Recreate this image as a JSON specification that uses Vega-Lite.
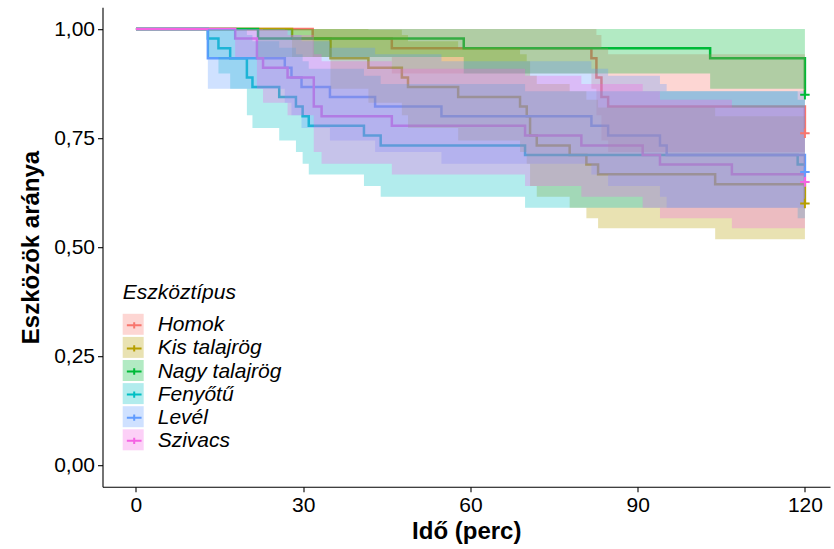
{
  "$schema": "https://vega.github.io/schema/vega-lite/v6.json",
  "width": 727.5,
  "height": 479.6,
  "autosize": {"type": "none"},
  "padding": {"left": 102.5, "top": 7.2, "right": 4, "bottom": 62.2},
  "background": "white",
  "datasets": {
    "km": [
      {"group": "Homok", "time": 0, "surv": 1, "lower": 1, "upper": 1},
      {"group": "Homok", "time": 31.7, "surv": 0.978, "lower": 0.936, "upper": 1},
      {"group": "Homok", "time": 45.9, "surv": 0.956, "lower": 0.898, "upper": 1},
      {"group": "Homok", "time": 81.7, "surv": 0.933, "lower": 0.863, "upper": 1},
      {"group": "Homok", "time": 82.6, "surv": 0.889, "lower": 0.802, "upper": 0.986},
      {"group": "Homok", "time": 83.5, "surv": 0.844, "lower": 0.744, "upper": 0.957},
      {"group": "Homok", "time": 84.7, "surv": 0.822, "lower": 0.718, "upper": 0.942},
      {"group": "Homok", "time": 120, "surv": 0.761, "lower": 0.646, "upper": 0.896, "censored": true},

      {"group": "Kis talajrög", "time": 0, "surv": 1, "lower": 1, "upper": 1},
      {"group": "Kis talajrög", "time": 28.0, "surv": 0.978, "lower": 0.936, "upper": 1},
      {"group": "Kis talajrög", "time": 34.9, "surv": 0.933, "lower": 0.863, "upper": 1},
      {"group": "Kis talajrög", "time": 41.7, "surv": 0.911, "lower": 0.831, "upper": 0.998},
      {"group": "Kis talajrög", "time": 47.7, "surv": 0.889, "lower": 0.802, "upper": 0.986},
      {"group": "Kis talajrög", "time": 48.8, "surv": 0.867, "lower": 0.773, "upper": 0.972},
      {"group": "Kis talajrög", "time": 57.8, "surv": 0.844, "lower": 0.744, "upper": 0.957},
      {"group": "Kis talajrög", "time": 68.9, "surv": 0.822, "lower": 0.718, "upper": 0.942},
      {"group": "Kis talajrög", "time": 70.1, "surv": 0.800, "lower": 0.691, "upper": 0.926},
      {"group": "Kis talajrög", "time": 70.7, "surv": 0.756, "lower": 0.640, "upper": 0.893},
      {"group": "Kis talajrög", "time": 71.9, "surv": 0.733, "lower": 0.615, "upper": 0.874},
      {"group": "Kis talajrög", "time": 77.8, "surv": 0.711, "lower": 0.590, "upper": 0.857},
      {"group": "Kis talajrög", "time": 80.8, "surv": 0.689, "lower": 0.566, "upper": 0.838},
      {"group": "Kis talajrög", "time": 82.9, "surv": 0.667, "lower": 0.543, "upper": 0.820},
      {"group": "Kis talajrög", "time": 103.9, "surv": 0.644, "lower": 0.518, "upper": 0.800},
      {"group": "Kis talajrög", "time": 120, "surv": 0.600, "lower": 0.473, "upper": 0.762, "censored": true},

      {"group": "Nagy talajrög", "time": 0, "surv": 1, "lower": 1, "upper": 1},
      {"group": "Nagy talajrög", "time": 21.9, "surv": 0.978, "lower": 0.936, "upper": 1},
      {"group": "Nagy talajrög", "time": 58.8, "surv": 0.956, "lower": 0.898, "upper": 1},
      {"group": "Nagy talajrög", "time": 103.0, "surv": 0.933, "lower": 0.863, "upper": 1},
      {"group": "Nagy talajrög", "time": 120, "surv": 0.849, "lower": 0.751, "upper": 0.960, "censored": true},

      {"group": "Fenyőtű", "time": 0, "surv": 1, "lower": 1, "upper": 1},
      {"group": "Fenyőtű", "time": 12.9, "surv": 0.978, "lower": 0.936, "upper": 1},
      {"group": "Fenyőtű", "time": 14.8, "surv": 0.956, "lower": 0.898, "upper": 1},
      {"group": "Fenyőtű", "time": 16.9, "surv": 0.933, "lower": 0.863, "upper": 1},
      {"group": "Fenyőtű", "time": 19.9, "surv": 0.889, "lower": 0.802, "upper": 0.986},
      {"group": "Fenyőtű", "time": 20.9, "surv": 0.867, "lower": 0.773, "upper": 0.972},
      {"group": "Fenyőtű", "time": 25.7, "surv": 0.844, "lower": 0.744, "upper": 0.957},
      {"group": "Fenyőtű", "time": 28.7, "surv": 0.822, "lower": 0.718, "upper": 0.942},
      {"group": "Fenyőtű", "time": 29.9, "surv": 0.800, "lower": 0.691, "upper": 0.926},
      {"group": "Fenyőtű", "time": 31.0, "surv": 0.778, "lower": 0.666, "upper": 0.909},
      {"group": "Fenyőtű", "time": 40.9, "surv": 0.756, "lower": 0.640, "upper": 0.893},
      {"group": "Fenyőtű", "time": 43.9, "surv": 0.733, "lower": 0.615, "upper": 0.874},
      {"group": "Fenyőtű", "time": 69.8, "surv": 0.711, "lower": 0.590, "upper": 0.857},
      {"group": "Fenyőtű", "time": 118.7, "surv": 0.689, "lower": 0.566, "upper": 0.838},
      {"group": "Fenyőtű", "time": 120, "surv": 0.689, "lower": 0.566, "upper": 0.838},

      {"group": "Levél", "time": 0, "surv": 1, "lower": 1, "upper": 1},
      {"group": "Levél", "time": 12.9, "surv": 0.933, "lower": 0.863, "upper": 1},
      {"group": "Levél", "time": 26.7, "surv": 0.911, "lower": 0.831, "upper": 0.998},
      {"group": "Levél", "time": 27.9, "surv": 0.889, "lower": 0.802, "upper": 0.986},
      {"group": "Levél", "time": 29.7, "surv": 0.867, "lower": 0.773, "upper": 0.972},
      {"group": "Levél", "time": 34.8, "surv": 0.844, "lower": 0.744, "upper": 0.957},
      {"group": "Levél", "time": 42.9, "surv": 0.822, "lower": 0.718, "upper": 0.942},
      {"group": "Levél", "time": 54.8, "surv": 0.800, "lower": 0.691, "upper": 0.926},
      {"group": "Levél", "time": 81.7, "surv": 0.778, "lower": 0.666, "upper": 0.909},
      {"group": "Levél", "time": 84.7, "surv": 0.756, "lower": 0.640, "upper": 0.893},
      {"group": "Levél", "time": 94.0, "surv": 0.733, "lower": 0.615, "upper": 0.874},
      {"group": "Levél", "time": 95.2, "surv": 0.711, "lower": 0.590, "upper": 0.857},
      {"group": "Levél", "time": 120, "surv": 0.672, "lower": 0.548, "upper": 0.824, "censored": true},

      {"group": "Szivacs", "time": 0, "surv": 1, "lower": 1, "upper": 1},
      {"group": "Szivacs", "time": 17.8, "surv": 0.978, "lower": 0.936, "upper": 1},
      {"group": "Szivacs", "time": 21.7, "surv": 0.933, "lower": 0.863, "upper": 1},
      {"group": "Szivacs", "time": 22.8, "surv": 0.911, "lower": 0.831, "upper": 0.998},
      {"group": "Szivacs", "time": 27.2, "surv": 0.889, "lower": 0.802, "upper": 0.986},
      {"group": "Szivacs", "time": 31.9, "surv": 0.822, "lower": 0.718, "upper": 0.942},
      {"group": "Szivacs", "time": 33.3, "surv": 0.800, "lower": 0.691, "upper": 0.926},
      {"group": "Szivacs", "time": 45.9, "surv": 0.778, "lower": 0.666, "upper": 0.909},
      {"group": "Szivacs", "time": 69.8, "surv": 0.756, "lower": 0.640, "upper": 0.893},
      {"group": "Szivacs", "time": 79.9, "surv": 0.733, "lower": 0.615, "upper": 0.874},
      {"group": "Szivacs", "time": 90.9, "surv": 0.711, "lower": 0.590, "upper": 0.857},
      {"group": "Szivacs", "time": 94.0, "surv": 0.689, "lower": 0.566, "upper": 0.838},
      {"group": "Szivacs", "time": 106.9, "surv": 0.667, "lower": 0.543, "upper": 0.820},
      {"group": "Szivacs", "time": 120, "surv": 0.649, "lower": 0.523, "upper": 0.805, "censored": true}
    ]
  },
  "data": {"name": "km"},
  "layer": [
    {
      "mark": {"type": "line", "interpolate": "step-after", "strokeWidth": 2.5},
      "encoding": {
        "x": {
          "field": "time", "type": "quantitative", "title": "Idő (perc)",
          "scale": {"domain": [-6, 124.5], "nice": false, "zero": false},
          "axis": {"values": [0, 30, 60, 90, 120], "titlePadding": 4}
        },
        "y": {
          "field": "surv", "type": "quantitative", "title": "Eszközök aránya",
          "scale": {"domain": [-0.05, 1.05], "nice": false, "zero": false},
          "axis": {
            "values": [0, 0.25, 0.5, 0.75, 1],
            "labelExpr": "replace(format(datum.value, '.2f'), '.', ',')",
            "titlePadding": 10
          }
        },
        "stroke": {
          "field": "group", "type": "nominal",
          "scale": {
            "domain": ["Homok", "Kis talajrög", "Nagy talajrög", "Fenyőtű", "Levél", "Szivacs"],
            "range": ["#F8766D", "#B79F00", "#00BA38", "#00BFC4", "#619CFF", "#F564E3"]
          },
          "legend": {
            "orient": "none", "legendX": 20.2, "legendY": 274.6, "padding": 0,
            "title": "Eszköztípus", "titlePadding": 11,
            "symbolType": "M-0.7,0H0.7M0,-0.3V0.3", "symbolSize": 441,
            "symbolStrokeWidth": 2, "symbolFillColor": "transparent", "symbolOpacity": 1,
            "rowPadding": 1.1, "labelOffset": 12
          }
        }
      }
    },
    {
      "mark": {"type": "area", "interpolate": "step-after", "fillOpacity": 0.3},
      "encoding": {
        "x": {"field": "time", "type": "quantitative", "title": "Idő (perc)",
              "scale": {"domain": [-6, 124.5], "nice": false, "zero": false}},
        "y": {"field": "lower", "type": "quantitative", "title": "Eszközök aránya", "stack": null,
              "scale": {"domain": [-0.05, 1.05], "nice": false, "zero": false}},
        "y2": {"field": "upper"},
        "fill": {
          "field": "group", "type": "nominal",
          "sort": ["Homok", "Kis talajrög", "Nagy talajrög", "Fenyőtű", "Levél", "Szivacs"],
          "scale": {"range": ["#F8766D", "#B79F00", "#00BA38", "#00BFC4", "#619CFF", "#F564E3"]},
          "legend": {
            "orient": "none", "legendX": 20.2, "legendY": 306.6, "padding": 0,
            "title": null, "labelExpr": "''",
            "symbolType": "square", "symbolSize": 441, "symbolStrokeWidth": 0,
            "symbolOpacity": 0.3, "rowPadding": 1.1, "labelOffset": 12
          }
        }
      }
    },
    {
      "transform": [{"filter": "datum.censored === true"}],
      "mark": {"type": "point", "shape": "M-1,0H1M0,-1V1", "size": 90, "strokeWidth": 2, "filled": false, "opacity": 1},
      "encoding": {
        "x": {"field": "time", "type": "quantitative", "title": "Idő (perc)",
              "scale": {"domain": [-6, 124.5], "nice": false, "zero": false}},
        "y": {"field": "surv", "type": "quantitative", "title": "Eszközök aránya",
              "scale": {"domain": [-0.05, 1.05], "nice": false, "zero": false}},
        "stroke": {
          "field": "group", "type": "nominal",
          "scale": {
            "domain": ["Homok", "Kis talajrög", "Nagy talajrög", "Fenyőtű", "Levél", "Szivacs"],
            "range": ["#F8766D", "#B79F00", "#00BA38", "#00BFC4", "#619CFF", "#F564E3"]
          },
          "legend": null
        }
      }
    }
  ],
  "config": {
    "view": {"stroke": null},
    "font": "Liberation Sans",
    "axis": {
      "grid": false,
      "domainColor": "black", "domainWidth": 1.1,
      "tickColor": "black", "tickWidth": 1.1, "tickSize": 5,
      "labelFont": "Liberation Sans", "labelFontSize": 21, "labelColor": "black", "labelPadding": 3,
      "titleFont": "Liberation Sans", "titleFontSize": 24, "titleFontWeight": "bold", "titleColor": "black"
    },
    "legend": {
      "titleFont": "Liberation Sans", "titleFontSize": 21, "titleFontStyle": "italic",
      "titleFontWeight": "normal", "titleColor": "black",
      "labelFont": "Liberation Sans", "labelFontSize": 21, "labelFontStyle": "italic",
      "labelColor": "black", "labelLimit": 300
    }
  }
}
